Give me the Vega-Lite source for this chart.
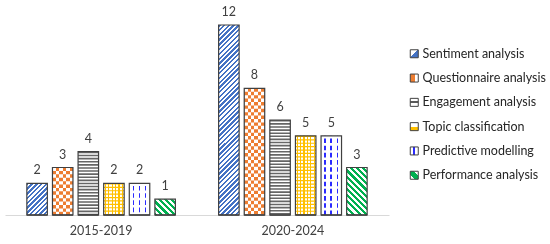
{
"$schema": "https://vega.github.io/schema/vega-lite/v6.json",
"width": 384, "height": 190,
"autosize": {"type": "none"},
"padding": {"left": 5, "top": 25, "right": 161, "bottom": 29},
"background": "#ffffff",
"config": {"view": {"stroke": null}, "font": "Lato"},
"data": {"values": [
 {"period":"2015-2019","category":"Sentiment analysis","value":2},
 {"period":"2015-2019","category":"Questionnaire analysis","value":3},
 {"period":"2015-2019","category":"Engagement analysis","value":4},
 {"period":"2015-2019","category":"Topic classification","value":2},
 {"period":"2015-2019","category":"Predictive modelling","value":2},
 {"period":"2015-2019","category":"Performance analysis","value":1},
 {"period":"2020-2024","category":"Sentiment analysis","value":12},
 {"period":"2020-2024","category":"Questionnaire analysis","value":8},
 {"period":"2020-2024","category":"Engagement analysis","value":6},
 {"period":"2020-2024","category":"Topic classification","value":5},
 {"period":"2020-2024","category":"Predictive modelling","value":5},
 {"period":"2020-2024","category":"Performance analysis","value":3}
]},
"encoding": {
 "x": {"field":"period","type":"nominal","scale":{"paddingInner":0.2255,"paddingOuter":0.114},
   "axis":{"title":null,"labelAngle":0,"ticks":false,"tickSize":0,"domainColor":"#d9d9d9","domainWidth":1,"labelFontSize":12.5,"labelFont":"Lato","labelColor":"#404040","labelPadding":15,"labelBaseline":"middle"}},
 "xOffset": {"field":"category","type":"nominal","sort":["Sentiment analysis","Questionnaire analysis","Engagement analysis","Topic classification","Predictive modelling","Performance analysis"],"scale":{"paddingInner":0.2,"paddingOuter":0}},
 "y": {"field":"value","type":"quantitative","scale":{"domain":[0,12],"nice":false},"axis":null}
},
"layer": [
 {"transform":[{"filter":"datum.category == 'Sentiment analysis' && datum.period == '2015-2019'"}],
  "mark":{"type":"bar","fill":{"gradient":"linear","x1":0,"y1":0,"x2":0.7509,"y2":1.1611,"stops":[
     {"offset":0,"color":"#4472c4"},{"offset":0.0455,"color":"#4472c4"},{"offset":0.0455,"color":"#fff"},{"offset":0.0909,"color":"#fff"},
     {"offset":0.0909,"color":"#4472c4"},{"offset":0.1364,"color":"#4472c4"},{"offset":0.1364,"color":"#fff"},{"offset":0.1818,"color":"#fff"},
     {"offset":0.1818,"color":"#4472c4"},{"offset":0.2273,"color":"#4472c4"},{"offset":0.2273,"color":"#fff"},{"offset":0.2727,"color":"#fff"},
     {"offset":0.2727,"color":"#4472c4"},{"offset":0.3182,"color":"#4472c4"},{"offset":0.3182,"color":"#fff"},{"offset":0.3636,"color":"#fff"},
     {"offset":0.3636,"color":"#4472c4"},{"offset":0.4091,"color":"#4472c4"},{"offset":0.4091,"color":"#fff"},{"offset":0.4545,"color":"#fff"},
     {"offset":0.4545,"color":"#4472c4"},{"offset":0.5,"color":"#4472c4"},{"offset":0.5,"color":"#fff"},{"offset":0.5455,"color":"#fff"},
     {"offset":0.5455,"color":"#4472c4"},{"offset":0.5909,"color":"#4472c4"},{"offset":0.5909,"color":"#fff"},{"offset":0.6364,"color":"#fff"},
     {"offset":0.6364,"color":"#4472c4"},{"offset":0.6818,"color":"#4472c4"},{"offset":0.6818,"color":"#fff"},{"offset":0.7273,"color":"#fff"},
     {"offset":0.7273,"color":"#4472c4"},{"offset":0.7727,"color":"#4472c4"},{"offset":0.7727,"color":"#fff"},{"offset":0.8182,"color":"#fff"},
     {"offset":0.8182,"color":"#4472c4"},{"offset":0.8636,"color":"#4472c4"},{"offset":0.8636,"color":"#fff"},{"offset":0.9091,"color":"#fff"},
     {"offset":0.9091,"color":"#4472c4"},{"offset":0.9545,"color":"#4472c4"},{"offset":0.9545,"color":"#fff"},{"offset":1,"color":"#fff"}]}}},
 {"transform":[{"filter":"datum.category == 'Sentiment analysis' && datum.period == '2020-2024'"}],
  "mark":{"type":"bar","fill":{"gradient":"linear","x1":0,"y1":0,"x2":0.118,"y2":1.0951,"stops":[
     {"offset":0,"color":"#4472c4"},{"offset":0.0114,"color":"#4472c4"},{"offset":0.0114,"color":"#fff"},{"offset":0.0227,"color":"#fff"},
     {"offset":0.0227,"color":"#4472c4"},{"offset":0.0341,"color":"#4472c4"},{"offset":0.0341,"color":"#fff"},{"offset":0.0455,"color":"#fff"},
     {"offset":0.0455,"color":"#4472c4"},{"offset":0.0568,"color":"#4472c4"},{"offset":0.0568,"color":"#fff"},{"offset":0.0682,"color":"#fff"},
     {"offset":0.0682,"color":"#4472c4"},{"offset":0.0795,"color":"#4472c4"},{"offset":0.0795,"color":"#fff"},{"offset":0.0909,"color":"#fff"},
     {"offset":0.0909,"color":"#4472c4"},{"offset":0.1023,"color":"#4472c4"},{"offset":0.1023,"color":"#fff"},{"offset":0.1136,"color":"#fff"},
     {"offset":0.1136,"color":"#4472c4"},{"offset":0.125,"color":"#4472c4"},{"offset":0.125,"color":"#fff"},{"offset":0.1364,"color":"#fff"},
     {"offset":0.1364,"color":"#4472c4"},{"offset":0.1477,"color":"#4472c4"},{"offset":0.1477,"color":"#fff"},{"offset":0.1591,"color":"#fff"},
     {"offset":0.1591,"color":"#4472c4"},{"offset":0.1705,"color":"#4472c4"},{"offset":0.1705,"color":"#fff"},{"offset":0.1818,"color":"#fff"},
     {"offset":0.1818,"color":"#4472c4"},{"offset":0.1932,"color":"#4472c4"},{"offset":0.1932,"color":"#fff"},{"offset":0.2045,"color":"#fff"},
     {"offset":0.2045,"color":"#4472c4"},{"offset":0.2159,"color":"#4472c4"},{"offset":0.2159,"color":"#fff"},{"offset":0.2273,"color":"#fff"},
     {"offset":0.2273,"color":"#4472c4"},{"offset":0.2386,"color":"#4472c4"},{"offset":0.2386,"color":"#fff"},{"offset":0.25,"color":"#fff"},
     {"offset":0.25,"color":"#4472c4"},{"offset":0.2614,"color":"#4472c4"},{"offset":0.2614,"color":"#fff"},{"offset":0.2727,"color":"#fff"},
     {"offset":0.2727,"color":"#4472c4"},{"offset":0.2841,"color":"#4472c4"},{"offset":0.2841,"color":"#fff"},{"offset":0.2955,"color":"#fff"},
     {"offset":0.2955,"color":"#4472c4"},{"offset":0.3068,"color":"#4472c4"},{"offset":0.3068,"color":"#fff"},{"offset":0.3182,"color":"#fff"},
     {"offset":0.3182,"color":"#4472c4"},{"offset":0.3295,"color":"#4472c4"},{"offset":0.3295,"color":"#fff"},{"offset":0.3409,"color":"#fff"},
     {"offset":0.3409,"color":"#4472c4"},{"offset":0.3523,"color":"#4472c4"},{"offset":0.3523,"color":"#fff"},{"offset":0.3636,"color":"#fff"},
     {"offset":0.3636,"color":"#4472c4"},{"offset":0.375,"color":"#4472c4"},{"offset":0.375,"color":"#fff"},{"offset":0.3864,"color":"#fff"},
     {"offset":0.3864,"color":"#4472c4"},{"offset":0.3977,"color":"#4472c4"},{"offset":0.3977,"color":"#fff"},{"offset":0.4091,"color":"#fff"},
     {"offset":0.4091,"color":"#4472c4"},{"offset":0.4205,"color":"#4472c4"},{"offset":0.4205,"color":"#fff"},{"offset":0.4318,"color":"#fff"},
     {"offset":0.4318,"color":"#4472c4"},{"offset":0.4432,"color":"#4472c4"},{"offset":0.4432,"color":"#fff"},{"offset":0.4545,"color":"#fff"},
     {"offset":0.4545,"color":"#4472c4"},{"offset":0.4659,"color":"#4472c4"},{"offset":0.4659,"color":"#fff"},{"offset":0.4773,"color":"#fff"},
     {"offset":0.4773,"color":"#4472c4"},{"offset":0.4886,"color":"#4472c4"},{"offset":0.4886,"color":"#fff"},{"offset":0.5,"color":"#fff"},
     {"offset":0.5,"color":"#4472c4"},{"offset":0.5114,"color":"#4472c4"},{"offset":0.5114,"color":"#fff"},{"offset":0.5227,"color":"#fff"},
     {"offset":0.5227,"color":"#4472c4"},{"offset":0.5341,"color":"#4472c4"},{"offset":0.5341,"color":"#fff"},{"offset":0.5455,"color":"#fff"},
     {"offset":0.5455,"color":"#4472c4"},{"offset":0.5568,"color":"#4472c4"},{"offset":0.5568,"color":"#fff"},{"offset":0.5682,"color":"#fff"},
     {"offset":0.5682,"color":"#4472c4"},{"offset":0.5795,"color":"#4472c4"},{"offset":0.5795,"color":"#fff"},{"offset":0.5909,"color":"#fff"},
     {"offset":0.5909,"color":"#4472c4"},{"offset":0.6023,"color":"#4472c4"},{"offset":0.6023,"color":"#fff"},{"offset":0.6136,"color":"#fff"},
     {"offset":0.6136,"color":"#4472c4"},{"offset":0.625,"color":"#4472c4"},{"offset":0.625,"color":"#fff"},{"offset":0.6364,"color":"#fff"},
     {"offset":0.6364,"color":"#4472c4"},{"offset":0.6477,"color":"#4472c4"},{"offset":0.6477,"color":"#fff"},{"offset":0.6591,"color":"#fff"},
     {"offset":0.6591,"color":"#4472c4"},{"offset":0.6705,"color":"#4472c4"},{"offset":0.6705,"color":"#fff"},{"offset":0.6818,"color":"#fff"},
     {"offset":0.6818,"color":"#4472c4"},{"offset":0.6932,"color":"#4472c4"},{"offset":0.6932,"color":"#fff"},{"offset":0.7045,"color":"#fff"},
     {"offset":0.7045,"color":"#4472c4"},{"offset":0.7159,"color":"#4472c4"},{"offset":0.7159,"color":"#fff"},{"offset":0.7273,"color":"#fff"},
     {"offset":0.7273,"color":"#4472c4"},{"offset":0.7386,"color":"#4472c4"},{"offset":0.7386,"color":"#fff"},{"offset":0.75,"color":"#fff"},
     {"offset":0.75,"color":"#4472c4"},{"offset":0.7614,"color":"#4472c4"},{"offset":0.7614,"color":"#fff"},{"offset":0.7727,"color":"#fff"},
     {"offset":0.7727,"color":"#4472c4"},{"offset":0.7841,"color":"#4472c4"},{"offset":0.7841,"color":"#fff"},{"offset":0.7955,"color":"#fff"},
     {"offset":0.7955,"color":"#4472c4"},{"offset":0.8068,"color":"#4472c4"},{"offset":0.8068,"color":"#fff"},{"offset":0.8182,"color":"#fff"},
     {"offset":0.8182,"color":"#4472c4"},{"offset":0.8295,"color":"#4472c4"},{"offset":0.8295,"color":"#fff"},{"offset":0.8409,"color":"#fff"},
     {"offset":0.8409,"color":"#4472c4"},{"offset":0.8523,"color":"#4472c4"},{"offset":0.8523,"color":"#fff"},{"offset":0.8636,"color":"#fff"},
     {"offset":0.8636,"color":"#4472c4"},{"offset":0.875,"color":"#4472c4"},{"offset":0.875,"color":"#fff"},{"offset":0.8864,"color":"#fff"},
     {"offset":0.8864,"color":"#4472c4"},{"offset":0.8977,"color":"#4472c4"},{"offset":0.8977,"color":"#fff"},{"offset":0.9091,"color":"#fff"},
     {"offset":0.9091,"color":"#4472c4"},{"offset":0.9205,"color":"#4472c4"},{"offset":0.9205,"color":"#fff"},{"offset":0.9318,"color":"#fff"},
     {"offset":0.9318,"color":"#4472c4"},{"offset":0.9432,"color":"#4472c4"},{"offset":0.9432,"color":"#fff"},{"offset":0.9545,"color":"#fff"},
     {"offset":0.9545,"color":"#4472c4"},{"offset":0.9659,"color":"#4472c4"},{"offset":0.9659,"color":"#fff"},{"offset":0.9773,"color":"#fff"},
     {"offset":0.9773,"color":"#4472c4"},{"offset":0.9886,"color":"#4472c4"},{"offset":0.9886,"color":"#fff"},{"offset":1,"color":"#fff"}]}}},
 {"transform":[{"filter":"datum.category == 'Questionnaire analysis'"}],
  "mark":{"type":"bar","fill":{"gradient":"linear","x1":0,"y1":0,"x2":1,"y2":0,"stops":[
     {"offset":0,"color":"#000"},{"offset":0.1667,"color":"#000"},{"offset":0.1667,"color":"#fff"},{"offset":0.3333,"color":"#fff"},
     {"offset":0.3333,"color":"#000"},{"offset":0.5,"color":"#000"},{"offset":0.5,"color":"#fff"},{"offset":0.6667,"color":"#fff"},
     {"offset":0.6667,"color":"#000"},{"offset":0.8333,"color":"#000"},{"offset":0.8333,"color":"#fff"},{"offset":1,"color":"#fff"}]}}},
 {"transform":[{"filter":"datum.category == 'Engagement analysis'"}],
  "mark":{"type":"bar","fill":"#ffffff"}},
 {"transform":[{"filter":"datum.category == 'Topic classification'"}],
  "mark":{"type":"bar","fill":{"gradient":"linear","x1":0,"y1":0,"x2":1,"y2":0,"stops":[
     {"offset":0,"color":"#fff"},{"offset":0.0542,"color":"#fff"},{"offset":0.0542,"color":"#ffc000"},{"offset":0.1125,"color":"#ffc000"},
     {"offset":0.1125,"color":"#fff"},{"offset":0.2208,"color":"#fff"},{"offset":0.2208,"color":"#ffc000"},{"offset":0.2792,"color":"#ffc000"},
     {"offset":0.2792,"color":"#fff"},{"offset":0.3875,"color":"#fff"},{"offset":0.3875,"color":"#ffc000"},{"offset":0.4458,"color":"#ffc000"},
     {"offset":0.4458,"color":"#fff"},{"offset":0.5542,"color":"#fff"},{"offset":0.5542,"color":"#ffc000"},{"offset":0.6125,"color":"#ffc000"},
     {"offset":0.6125,"color":"#fff"},{"offset":0.7208,"color":"#fff"},{"offset":0.7208,"color":"#ffc000"},{"offset":0.7792,"color":"#ffc000"},
     {"offset":0.7792,"color":"#fff"},{"offset":0.8875,"color":"#fff"},{"offset":0.8875,"color":"#ffc000"},{"offset":0.9458,"color":"#ffc000"},
     {"offset":0.9458,"color":"#fff"},{"offset":1,"color":"#fff"}]}}},
 {"transform":[{"filter":"datum.category == 'Predictive modelling'"}],
  "mark":{"type":"bar","fill":{"gradient":"linear","x1":0,"y1":0,"x2":1,"y2":0,"stops":[
     {"offset":0,"color":"#fff"},{"offset":0.16,"color":"#fff"},{"offset":0.16,"color":"#2a2aff"},{"offset":0.24,"color":"#2a2aff"},
     {"offset":0.24,"color":"#fff"},{"offset":0.46,"color":"#fff"},{"offset":0.46,"color":"#2a2aff"},{"offset":0.54,"color":"#2a2aff"},
     {"offset":0.54,"color":"#fff"},{"offset":0.76,"color":"#fff"},{"offset":0.76,"color":"#2a2aff"},{"offset":0.84,"color":"#2a2aff"},
     {"offset":0.84,"color":"#fff"},{"offset":1,"color":"#fff"}]}}},
 {"transform":[{"filter":"datum.category == 'Performance analysis' && datum.period == '2015-2019'"}],
  "mark":{"type":"bar","fill":{"gradient":"linear","x1":0,"y1":1,"x2":1.1098,"y2":0.142,"stops":[
     {"offset":0,"color":"#00b050"},{"offset":0.0833,"color":"#00b050"},{"offset":0.0833,"color":"#fff"},{"offset":0.1667,"color":"#fff"},
     {"offset":0.1667,"color":"#00b050"},{"offset":0.25,"color":"#00b050"},{"offset":0.25,"color":"#fff"},{"offset":0.3333,"color":"#fff"},
     {"offset":0.3333,"color":"#00b050"},{"offset":0.4167,"color":"#00b050"},{"offset":0.4167,"color":"#fff"},{"offset":0.5,"color":"#fff"},
     {"offset":0.5,"color":"#00b050"},{"offset":0.5833,"color":"#00b050"},{"offset":0.5833,"color":"#fff"},{"offset":0.6667,"color":"#fff"},
     {"offset":0.6667,"color":"#00b050"},{"offset":0.75,"color":"#00b050"},{"offset":0.75,"color":"#fff"},{"offset":0.8333,"color":"#fff"},
     {"offset":0.8333,"color":"#00b050"},{"offset":0.9167,"color":"#00b050"},{"offset":0.9167,"color":"#fff"},{"offset":1,"color":"#fff"}]}}},
 {"transform":[{"filter":"datum.category == 'Performance analysis' && datum.period == '2020-2024'"}],
  "mark":{"type":"bar","fill":{"gradient":"linear","x1":0,"y1":1,"x2":0.5203,"y2":-0.2068,"stops":[
     {"offset":0,"color":"#00b050"},{"offset":0.0455,"color":"#00b050"},{"offset":0.0455,"color":"#fff"},{"offset":0.0909,"color":"#fff"},
     {"offset":0.0909,"color":"#00b050"},{"offset":0.1364,"color":"#00b050"},{"offset":0.1364,"color":"#fff"},{"offset":0.1818,"color":"#fff"},
     {"offset":0.1818,"color":"#00b050"},{"offset":0.2273,"color":"#00b050"},{"offset":0.2273,"color":"#fff"},{"offset":0.2727,"color":"#fff"},
     {"offset":0.2727,"color":"#00b050"},{"offset":0.3182,"color":"#00b050"},{"offset":0.3182,"color":"#fff"},{"offset":0.3636,"color":"#fff"},
     {"offset":0.3636,"color":"#00b050"},{"offset":0.4091,"color":"#00b050"},{"offset":0.4091,"color":"#fff"},{"offset":0.4545,"color":"#fff"},
     {"offset":0.4545,"color":"#00b050"},{"offset":0.5,"color":"#00b050"},{"offset":0.5,"color":"#fff"},{"offset":0.5455,"color":"#fff"},
     {"offset":0.5455,"color":"#00b050"},{"offset":0.5909,"color":"#00b050"},{"offset":0.5909,"color":"#fff"},{"offset":0.6364,"color":"#fff"},
     {"offset":0.6364,"color":"#00b050"},{"offset":0.6818,"color":"#00b050"},{"offset":0.6818,"color":"#fff"},{"offset":0.7273,"color":"#fff"},
     {"offset":0.7273,"color":"#00b050"},{"offset":0.7727,"color":"#00b050"},{"offset":0.7727,"color":"#fff"},{"offset":0.8182,"color":"#fff"},
     {"offset":0.8182,"color":"#00b050"},{"offset":0.8636,"color":"#00b050"},{"offset":0.8636,"color":"#fff"},{"offset":0.9091,"color":"#fff"},
     {"offset":0.9091,"color":"#00b050"},{"offset":0.9545,"color":"#00b050"},{"offset":0.9545,"color":"#fff"},{"offset":1,"color":"#fff"}]}}},
 {"transform":[{"filter":{"field":"category","oneOf":["Engagement analysis","Topic classification","Predictive modelling"]}}],
  "mark":{"type":"rule","strokeWidth":20.4},
  "encoding":{
   "y2":{"datum":0},
   "stroke":{"field":"category","type":"nominal","legend":null,"scale":{"domain":["Engagement analysis","Topic classification","Predictive modelling"],"range":["#666666","#ffc000","#ffffff"]}},
   "strokeDash":{"field":"category","type":"nominal","legend":null,"scale":{"domain":["Engagement analysis","Topic classification","Predictive modelling"],"range":[[1.6,1.5],[1.2,2.2],[2.6,4.6]]}}
  }},
 {"transform":[{"filter":"datum.category == 'Questionnaire analysis'"}],
  "mark":{"type":"rule","stroke":"#ffffff","strokeWidth":20.4,"strokeDash":[3.41,3.41],"blend":"difference"},
  "encoding":{"y2":{"datum":0}}},
 {"transform":[{"filter":"datum.category == 'Questionnaire analysis'"}],
  "mark":{"type":"bar","fill":"#ed7d31","blend":"screen"}},
 {"mark":{"type":"bar","fill":"transparent","stroke":"#404040","strokeWidth":1.2}},
 {"mark":{"type":"bar","strokeWidth":1},
  "encoding":{
   "y":{"datum":0},
   "stroke":{"field":"category","type":"nominal",
    "scale":{"domain":["Sentiment analysis","Questionnaire analysis","Engagement analysis","Topic classification","Predictive modelling","Performance analysis"],
     "range":["#404040","#404040","#404040","#404040","#404040","#404040"]},
    "legend":{"title":null,"orient":"none","legendX":403,"legendY":22.5,"symbolType":"square","symbolSize":64,"symbolStrokeWidth":1,"labelFont":"Lato","labelFontSize":12.5,"labelColor":"#262626","labelOffset":2,"rowPadding":11.3,"padding":0,"labelLimit":200,
     "encoding":{"symbols":{"fill":{"condition":[
       {"test":"datum.value === 'Sentiment analysis'","value":{"gradient":"linear","x1":0,"y1":0,"x2":1,"y2":1,"stops":[{"offset":0,"color":"#fff"},{"offset":0.5,"color":"#fff"},{"offset":0.5,"color":"#4472c4"},{"offset":1,"color":"#4472c4"}]}},
       {"test":"datum.value === 'Questionnaire analysis'","value":{"gradient":"linear","x1":0,"y1":0,"x2":1,"y2":0,"stops":[{"offset":0,"color":"#ed7d31"},{"offset":0.55,"color":"#ed7d31"},{"offset":0.55,"color":"#fff"},{"offset":1,"color":"#fff"}]}},
       {"test":"datum.value === 'Engagement analysis'","value":{"gradient":"linear","x1":0,"y1":0,"x2":0,"y2":1,"stops":[{"offset":0,"color":"#fff"},{"offset":0.38,"color":"#fff"},{"offset":0.38,"color":"#595959"},{"offset":0.62,"color":"#595959"},{"offset":0.62,"color":"#fff"},{"offset":1,"color":"#fff"}]}},
       {"test":"datum.value === 'Topic classification'","value":{"gradient":"linear","x1":0,"y1":0,"x2":0,"y2":1,"stops":[{"offset":0,"color":"#fff"},{"offset":0.55,"color":"#fff"},{"offset":0.55,"color":"#ffc000"},{"offset":1,"color":"#ffc000"}]}},
       {"test":"datum.value === 'Predictive modelling'","value":{"gradient":"linear","x1":0,"y1":0,"x2":1,"y2":0,"stops":[{"offset":0,"color":"#fff"},{"offset":0.38,"color":"#fff"},{"offset":0.38,"color":"#2a2aff"},{"offset":0.62,"color":"#2a2aff"},{"offset":0.62,"color":"#fff"},{"offset":1,"color":"#fff"}]}}
      ],
      "value":{"gradient":"linear","x1":0,"y1":1,"x2":1,"y2":0,"stops":[{"offset":0,"color":"#fff"},{"offset":0.3,"color":"#fff"},{"offset":0.3,"color":"#00b050"},{"offset":0.7,"color":"#00b050"},{"offset":0.7,"color":"#fff"},{"offset":1,"color":"#fff"}]}},
      "opacity":{"value":1}}}}}
  }},
 {"mark":{"type":"text","dy":-13,"fontSize":12.5,"font":"Lato","color":"#404040","baseline":"middle"},
  "encoding":{"text":{"field":"value","type":"quantitative"}}}
],
"resolve": {"scale": {"stroke": "independent", "strokeDash": "independent"}, "legend": {"stroke": "independent"}}
}
